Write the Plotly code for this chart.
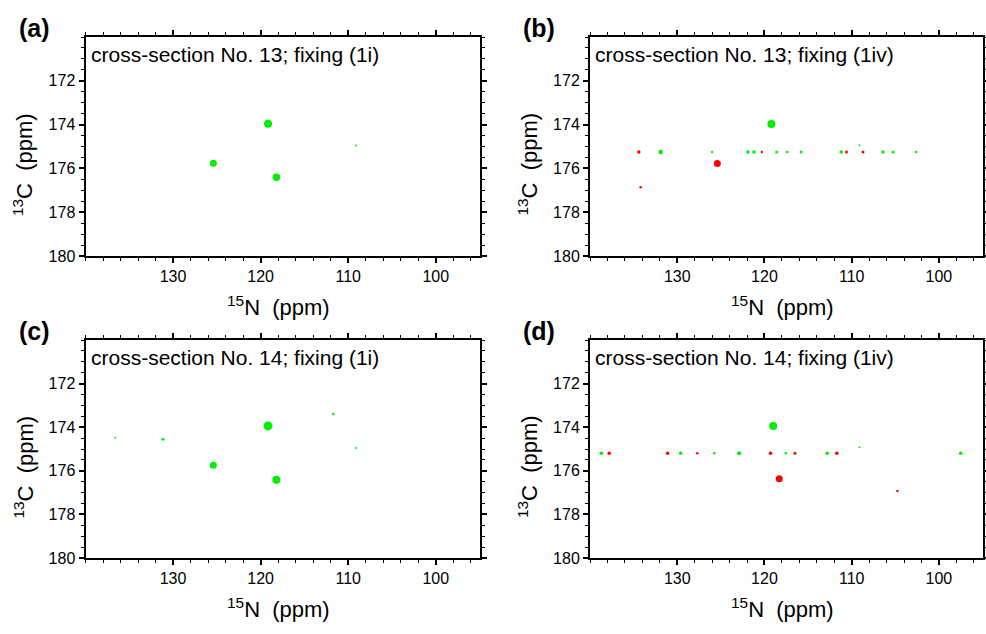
import plotly.graph_objects as go

# ---------------- data (ppm) ----------------
panel_letters = ["(a)", "(b)", "(c)", "(d)"]
panel_texts = ["cross-section No. 13; fixing (1i)", "cross-section No. 13; fixing (1iv)",
               "cross-section No. 14; fixing (1i)", "cross-section No. 14; fixing (1iv)"]

# panel a
a_green_n = [119.15, 125.4, 118.2, 109.1]
a_green_c = [173.96, 175.76, 176.40, 174.95]
a_green_s = [8, 7, 7.5, 2]
a_red_n, a_red_c, a_red_s = [], [], []

# panel b
b_green_n = [119.2, 131.9, 126.0, 121.9, 121.2, 118.6, 117.4, 115.8, 111.2, 106.4, 105.25, 102.6, 109.1]
b_green_c = [173.97, 175.25, 175.25, 175.25, 175.25, 175.25, 175.25, 175.25, 175.25, 175.25, 175.25, 175.25, 174.94]
b_green_s = [8, 4.5, 2.5, 3.5, 3.5, 3, 2.5, 3, 3.5, 3.5, 3, 2.5, 2]
b_red_n = [125.4, 134.4, 120.3, 110.6, 108.7, 134.2]
b_red_c = [175.78, 175.25, 175.25, 175.25, 175.25, 176.86]
b_red_s = [7, 3.5, 2.5, 3, 3, 2.5]

# panel c
c_green_n = [119.15, 125.4, 118.2, 136.6, 131.15, 111.7, 109.1]
c_green_c = [173.94, 175.75, 176.41, 174.48, 174.55, 173.39, 174.95]
c_green_s = [9, 7, 8, 2, 3, 2.5, 2]
c_red_n, c_red_c, c_red_s = [], [], []

# panel d
d_green_n = [119.0, 138.7, 129.6, 125.75, 122.9, 117.55, 112.8, 97.5, 109.1]
d_green_c = [173.94, 175.2, 175.2, 175.2, 175.2, 175.2, 175.2, 175.2, 174.92]
d_green_s = [8, 3.5, 3.5, 2.5, 4, 2.5, 3.5, 3.5, 2]
d_red_n = [118.3, 137.8, 131.1, 127.7, 119.3, 116.5, 111.7, 104.75]
d_red_c = [176.36, 175.2, 175.2, 175.2, 175.2, 175.2, 175.2, 176.93]
d_red_s = [7, 3.5, 3.5, 2.5, 3.5, 3, 3.5, 2.5]

x_range = [140, 95]
y_range = [180, 170]
x_ticks = [130, 120, 110, 100]
y_ticks = [172, 174, 176, 178, 180]

GREEN = "#00f000"
RED = "#ff0000"
FONT = "Liberation Sans, Arial, Helvetica, sans-serif"

panels = [
    (a_green_n, a_green_c, a_green_s, a_red_n, a_red_c, a_red_s),
    (b_green_n, b_green_c, b_green_s, b_red_n, b_red_c, b_red_s),
    (c_green_n, c_green_c, c_green_s, c_red_n, c_red_c, c_red_s),
    (d_green_n, d_green_c, d_green_s, d_red_n, d_red_c, d_red_s),
]

W, H = 986, 634
xpix = [[85.5, 479.5], [590, 982.5]]
ypix = [[37, 256], [340, 558]]
xdoms = [[a / W, b / W] for a, b in xpix]
ydoms = [[1 - b / H, 1 - a / H] for a, b in ypix]

fig = go.Figure()
layout = dict(
    width=W, height=H, margin=dict(l=0, r=0, t=0, b=0, autoexpand=False),
    paper_bgcolor="white", plot_bgcolor="white", showlegend=False,
    font=dict(family=FONT, color="black"),
)
annotations = []

for i, (gn, gc, gs, rn, rc, rs) in enumerate(panels):
    row, col = divmod(i, 2)
    suffix = "" if i == 0 else str(i + 1)
    xa, ya = "x" + suffix, "y" + suffix
    fig.add_trace(go.Scatter(x=gn, y=gc, mode="markers", xaxis=xa, yaxis=ya,
                             marker=dict(color=GREEN, size=gs, opacity=1, line=dict(width=0))))
    if rn:
        fig.add_trace(go.Scatter(x=rn, y=rc, mode="markers", xaxis=xa, yaxis=ya,
                                 marker=dict(color=RED, size=rs, opacity=1, line=dict(width=0))))
    common = dict(showline=True, linecolor="black", linewidth=2, mirror="allticks",
                  ticks="outside", tickcolor="black", tickwidth=1.5, ticklen=5,
                  showgrid=False, zeroline=False, tickfont=dict(size=16, family=FONT))
    layout["xaxis" + suffix] = dict(
        common, domain=xdoms[col], range=x_range, anchor=ya,
        tickmode="array", tickvals=x_ticks,
        minor=dict(dtick=2, tick0=0, ticks="outside", ticklen=3, tickcolor="black", tickwidth=1.2),
    )
    layout["yaxis" + suffix] = dict(
        common, domain=ydoms[row], range=y_range, anchor=xa,
        tickmode="array", tickvals=y_ticks,
        minor=dict(dtick=0.5, tick0=0, ticks="outside", ticklen=3, tickcolor="black", tickwidth=1.2),
    )
    left, right = xpix[col]
    top, bottom = ypix[row]
    # axis titles
    annotations.append(dict(
        text="<sup>15</sup>N  (ppm)", xref="paper", yref="paper",
        x=((left + right) / 2 - 4) / W, y=1 - (bottom + 50) / H,
        xanchor="center", yanchor="middle", showarrow=False,
        font=dict(size=22, family=FONT)))
    annotations.append(dict(
        text="<sup>13</sup>C  (ppm)", xref="paper", yref="paper", textangle=-90,
        x=(left - 62) / W, y=1 - ((top + bottom) / 2 + 18) / H,
        xanchor="center", yanchor="middle", showarrow=False,
        font=dict(size=22, family=FONT)))
    # in-panel caption
    annotations.append(dict(
        text=panel_texts[i], xref="paper", yref="paper",
        x=(left + 3) / W, y=1 - (top + 17) / H, xanchor="left", yanchor="middle",
        showarrow=False, font=dict(size=21, family=FONT)))
    # panel letter
    annotations.append(dict(
        text="<b>" + panel_letters[i] + "</b>", xref="paper", yref="paper",
        x=(left - 69) / W, y=1 - (top - 9) / H,
        xanchor="left", yanchor="middle", showarrow=False,
        font=dict(size=25, family=FONT)))

layout["annotations"] = annotations
fig.update_layout(**layout)
fig.write_html("out.html", config={"displayModeBar": False},
               post_script="document.body.style.margin='0';document.body.style.overflow='hidden';")
